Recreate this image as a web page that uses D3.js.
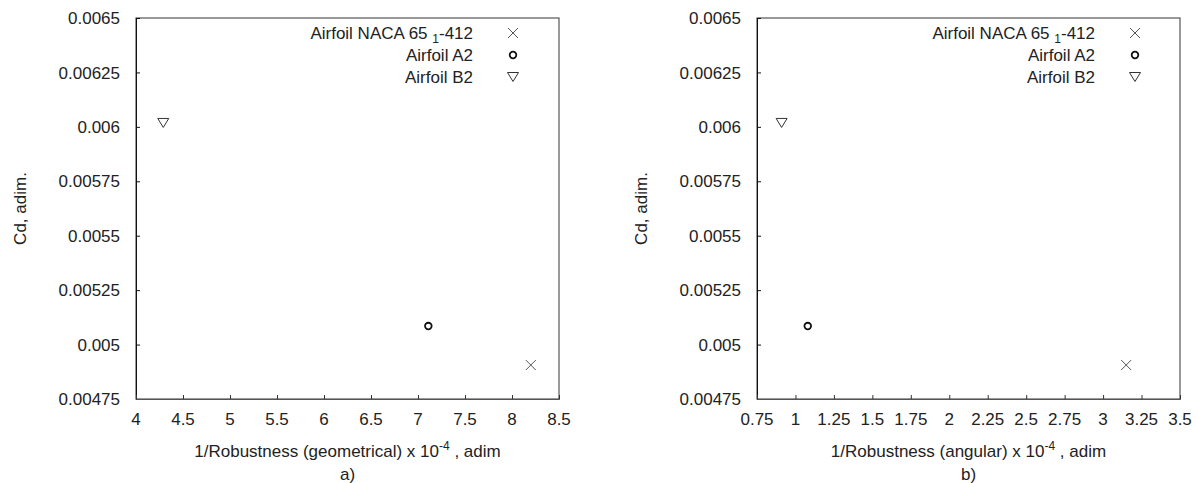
<!DOCTYPE html>
<html>
<head>
  <meta charset="utf-8">
  <title>Cd vs 1/Robustness</title>
  <script src="https://d3js.org/d3.v7.min.js"></script>
  <style>
    body { margin: 0; background: #fff; }
    svg { display: block; font-family: "Liberation Sans", Arial, sans-serif; }
    text { fill: #222; }
  </style>
</head>
<body>
  <svg width="1198" height="483"></svg>
  <script>
    // Data
    var seriesLabels = [["Airfoil NACA 65 ", "1", "-412"], ["Airfoil A2"], ["Airfoil B2"]];
    var seriesShapes = ["cross", "circle", "triangle"];
    var cdValues = [0.004906, 0.005085, 0.006018];
    var geometricalValues = [8.20, 7.11, 4.29];
    var angularValues = [3.15, 1.08, 0.91];
    var yTicks = [0.00475, 0.005, 0.00525, 0.0055, 0.00575, 0.006, 0.00625, 0.0065];
    var xTicksA = [4, 4.5, 5, 5.5, 6, 6.5, 7, 7.5, 8, 8.5];
    var xTicksB = [0.75, 1, 1.25, 1.5, 1.75, 2, 2.25, 2.5, 2.75, 3, 3.25, 3.5];

    var svg = d3.select("svg");

    //Oblik markera
    function markerPath(shape) {
      if (shape === "cross") return "M-5,-5L5,5M-5,5L5,-5";
      if (shape === "triangle") return "M-5.5,-4.5L5.5,-4.5L0,4.5Z";
      return null;
    }

    function drawMarker(sel, shape) {
      if (shape === "circle") {
        sel.append("circle").attr("r", 3.3)
          .attr("fill", "white").attr("stroke", "#111").attr("stroke-width", 1.8);
      } else {
        sel.append("path").attr("d", markerPath(shape))
          .attr("fill", shape === "triangle" ? "white" : "none")
          .attr("stroke", shape === "cross" ? "#555" : "#333")
          .attr("stroke-width", 1);
      }
    }

    function drawPanel(p) {
      var x = d3.scaleLinear().domain(p.xDomain).range([p.left, p.right]);
      var y = d3.scaleLinear().domain([0.00475, 0.0065]).range([p.bottom, p.top]);
      var g = svg.append("g");

      //Okvir
      g.append("rect")
        .attr("x", p.left).attr("y", p.top)
        .attr("width", p.right - p.left).attr("height", p.bottom - p.top)
        .attr("fill", "none").attr("stroke", "#555").attr("stroke-width", 1.2);

      //Osi (kvačice prema unutra)
      var yAxis = g.append("g")
        .attr("transform", "translate(" + p.left + ",0)")
        .call(d3.axisRight(y).tickValues(yTicks).tickSize(4).tickFormat(""));
      yAxis.select(".domain").attr("stroke", "#111");
      yAxis.selectAll(".tick line").attr("stroke", "#111");

      var xAxis = g.append("g")
        .attr("transform", "translate(0," + p.bottom + ")")
        .call(d3.axisTop(x).tickValues(p.xTicks).tickSize(4).tickFormat(""));
      xAxis.select(".domain").attr("stroke", "#555");
      xAxis.selectAll(".tick line").attr("stroke", "#333");

      //Oznake kvačica
      g.selectAll(".ylab").data(yTicks).enter().append("text")
        .attr("class", "ylab")
        .attr("x", p.left - 16)
        .attr("y", function (d) { return y(d); })
        .attr("dy", "0.36em")
        .attr("text-anchor", "end")
        .style("font-size", "17px")
        .text(function (d) { return String(d); });

      g.selectAll(".xlab").data(p.xTicks).enter().append("text")
        .attr("class", "xlab")
        .attr("x", function (d) { return x(d); })
        .attr("y", p.bottom + 26)
        .attr("text-anchor", "middle")
        .style("font-size", "17px")
        .text(function (d) { return String(d); });

      //Naslovi osi
      var cx = (p.left + p.right) / 2;
      var xt = g.append("text")
        .attr("x", cx).attr("y", p.bottom + 58)
        .attr("text-anchor", "middle")
        .style("font-size", "17px");
      xt.append("tspan").text(p.xTitle[0]);
      xt.append("tspan").attr("dy", -7).style("font-size", "12px").text(p.xTitle[1]);
      xt.append("tspan").attr("dy", 7).text(p.xTitle[2]);

      g.append("text")
        .attr("x", cx).attr("y", p.bottom + 81)
        .attr("text-anchor", "middle")
        .style("font-size", "17px")
        .text(p.caption);

      g.append("text")
        .attr("transform", "translate(" + (p.left - 110) + "," + ((p.top + p.bottom) / 2) + ") rotate(-90)")
        .attr("text-anchor", "middle")
        .style("font-size", "17px")
        .text("Cd, adim.");

      //Točke
      p.xValues.forEach(function (v, i) {
        var m = g.append("g")
          .attr("transform", "translate(" + x(v) + "," + y(cdValues[i]) + ")");
        drawMarker(m, seriesShapes[i]);
      });

      //Legenda
      seriesLabels.forEach(function (parts, i) {
        var ly = p.top + 15 + i * 22;
        var t = g.append("text")
          .attr("x", p.legendTextX).attr("y", ly)
          .attr("dy", "0.36em")
          .attr("text-anchor", "end")
          .style("font-size", "17px");
        t.append("tspan").text(parts[0]);
        if (parts.length > 1) {
          t.append("tspan").attr("dy", 4).style("font-size", "12px").text(parts[1]);
          t.append("tspan").attr("dy", -4).text(parts[2]);
        }
        var m = g.append("g").attr("transform", "translate(" + p.legendMarkX + "," + ly + ")");
        drawMarker(m, seriesShapes[i]);
      });
    }

    drawPanel({
      left: 136, right: 559, top: 18, bottom: 399,
      xDomain: [4, 8.5], xTicks: xTicksA, xValues: geometricalValues,
      xTitle: ["1/Robustness (geometrical) x 10", "-4", " , adim"], caption: "a)",
      legendTextX: 473, legendMarkX: 513
    });

    drawPanel({
      left: 757, right: 1180, top: 18, bottom: 399,
      xDomain: [0.75, 3.5], xTicks: xTicksB, xValues: angularValues,
      xTitle: ["1/Robustness (angular) x 10", "-4", " , adim"], caption: "b)",
      legendTextX: 1095, legendMarkX: 1135
    });
  </script>
</body>
</html>
